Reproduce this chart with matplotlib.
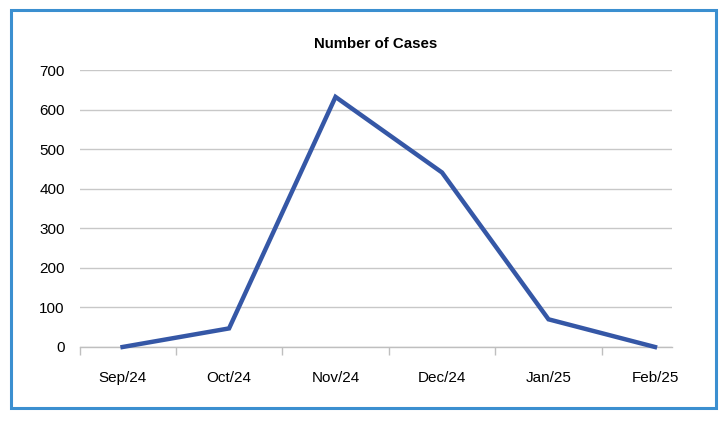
import matplotlib
matplotlib.use("Agg")
import matplotlib.pyplot as plt
from matplotlib.patches import Rectangle

categories = ["Sep/24", "Oct/24", "Nov/24", "Dec/24", "Jan/25", "Feb/25"]
cases = [0, 47, 632, 441, 70, 0]
yticks = [0, 100, 200, 300, 400, 500, 600, 700]

plt.rcParams['font.family'] = ['Liberation Sans', 'DejaVu Sans']

W, H = 720, 423
fig = plt.figure(figsize=(W / 100, H / 100), dpi=100)
ax = fig.add_axes([80 / W, 1 - 347 / H, (672 - 80) / W, (347 - 70) / H])

x = list(range(len(categories)))
ax.plot(x, cases, color="#3557a6", lw=3.2, solid_joinstyle="miter", clip_on=False, zorder=3)

ax.set_xlim(-0.4, 5.16)
ax.set_ylim(0, 700)
ax.set_yticks(yticks)
ax.set_yticklabels([str(v) for v in yticks], fontsize=11)
ax.set_xticks(x)
ax.set_xticklabels(categories, fontsize=11)
ax.set_xticks([-0.4, 0.5, 1.5, 2.5, 3.5, 4.5], minor=True)
ax.tick_params(axis="x", which="major", length=0, pad=17)
ax.tick_params(axis="x", which="minor", length=6, color="#bfbfbf", width=1)
ax.tick_params(axis="y", length=0, pad=11)

ax.grid(axis="y", color="#c8c8c8", lw=1)
ax.set_axisbelow(True)
for s in ["top", "right", "left"]:
    ax.spines[s].set_visible(False)
ax.spines["bottom"].set_color("#bfbfbf")
ax.spines["bottom"].set_linewidth(1)

fig.text(376 / W, 1 - 44 / H, "Number of Cases", ha="center", va="center",
         fontsize=10.8, fontweight="bold")

fig.patches.append(Rectangle((11 / W, 1 - 408 / H), (716 - 11) / W, (408 - 10) / H,
                             transform=fig.transFigure, fill=False,
                             edgecolor="#3b8fd0", lw=2.2))

fig.savefig("out.png", dpi=100)
